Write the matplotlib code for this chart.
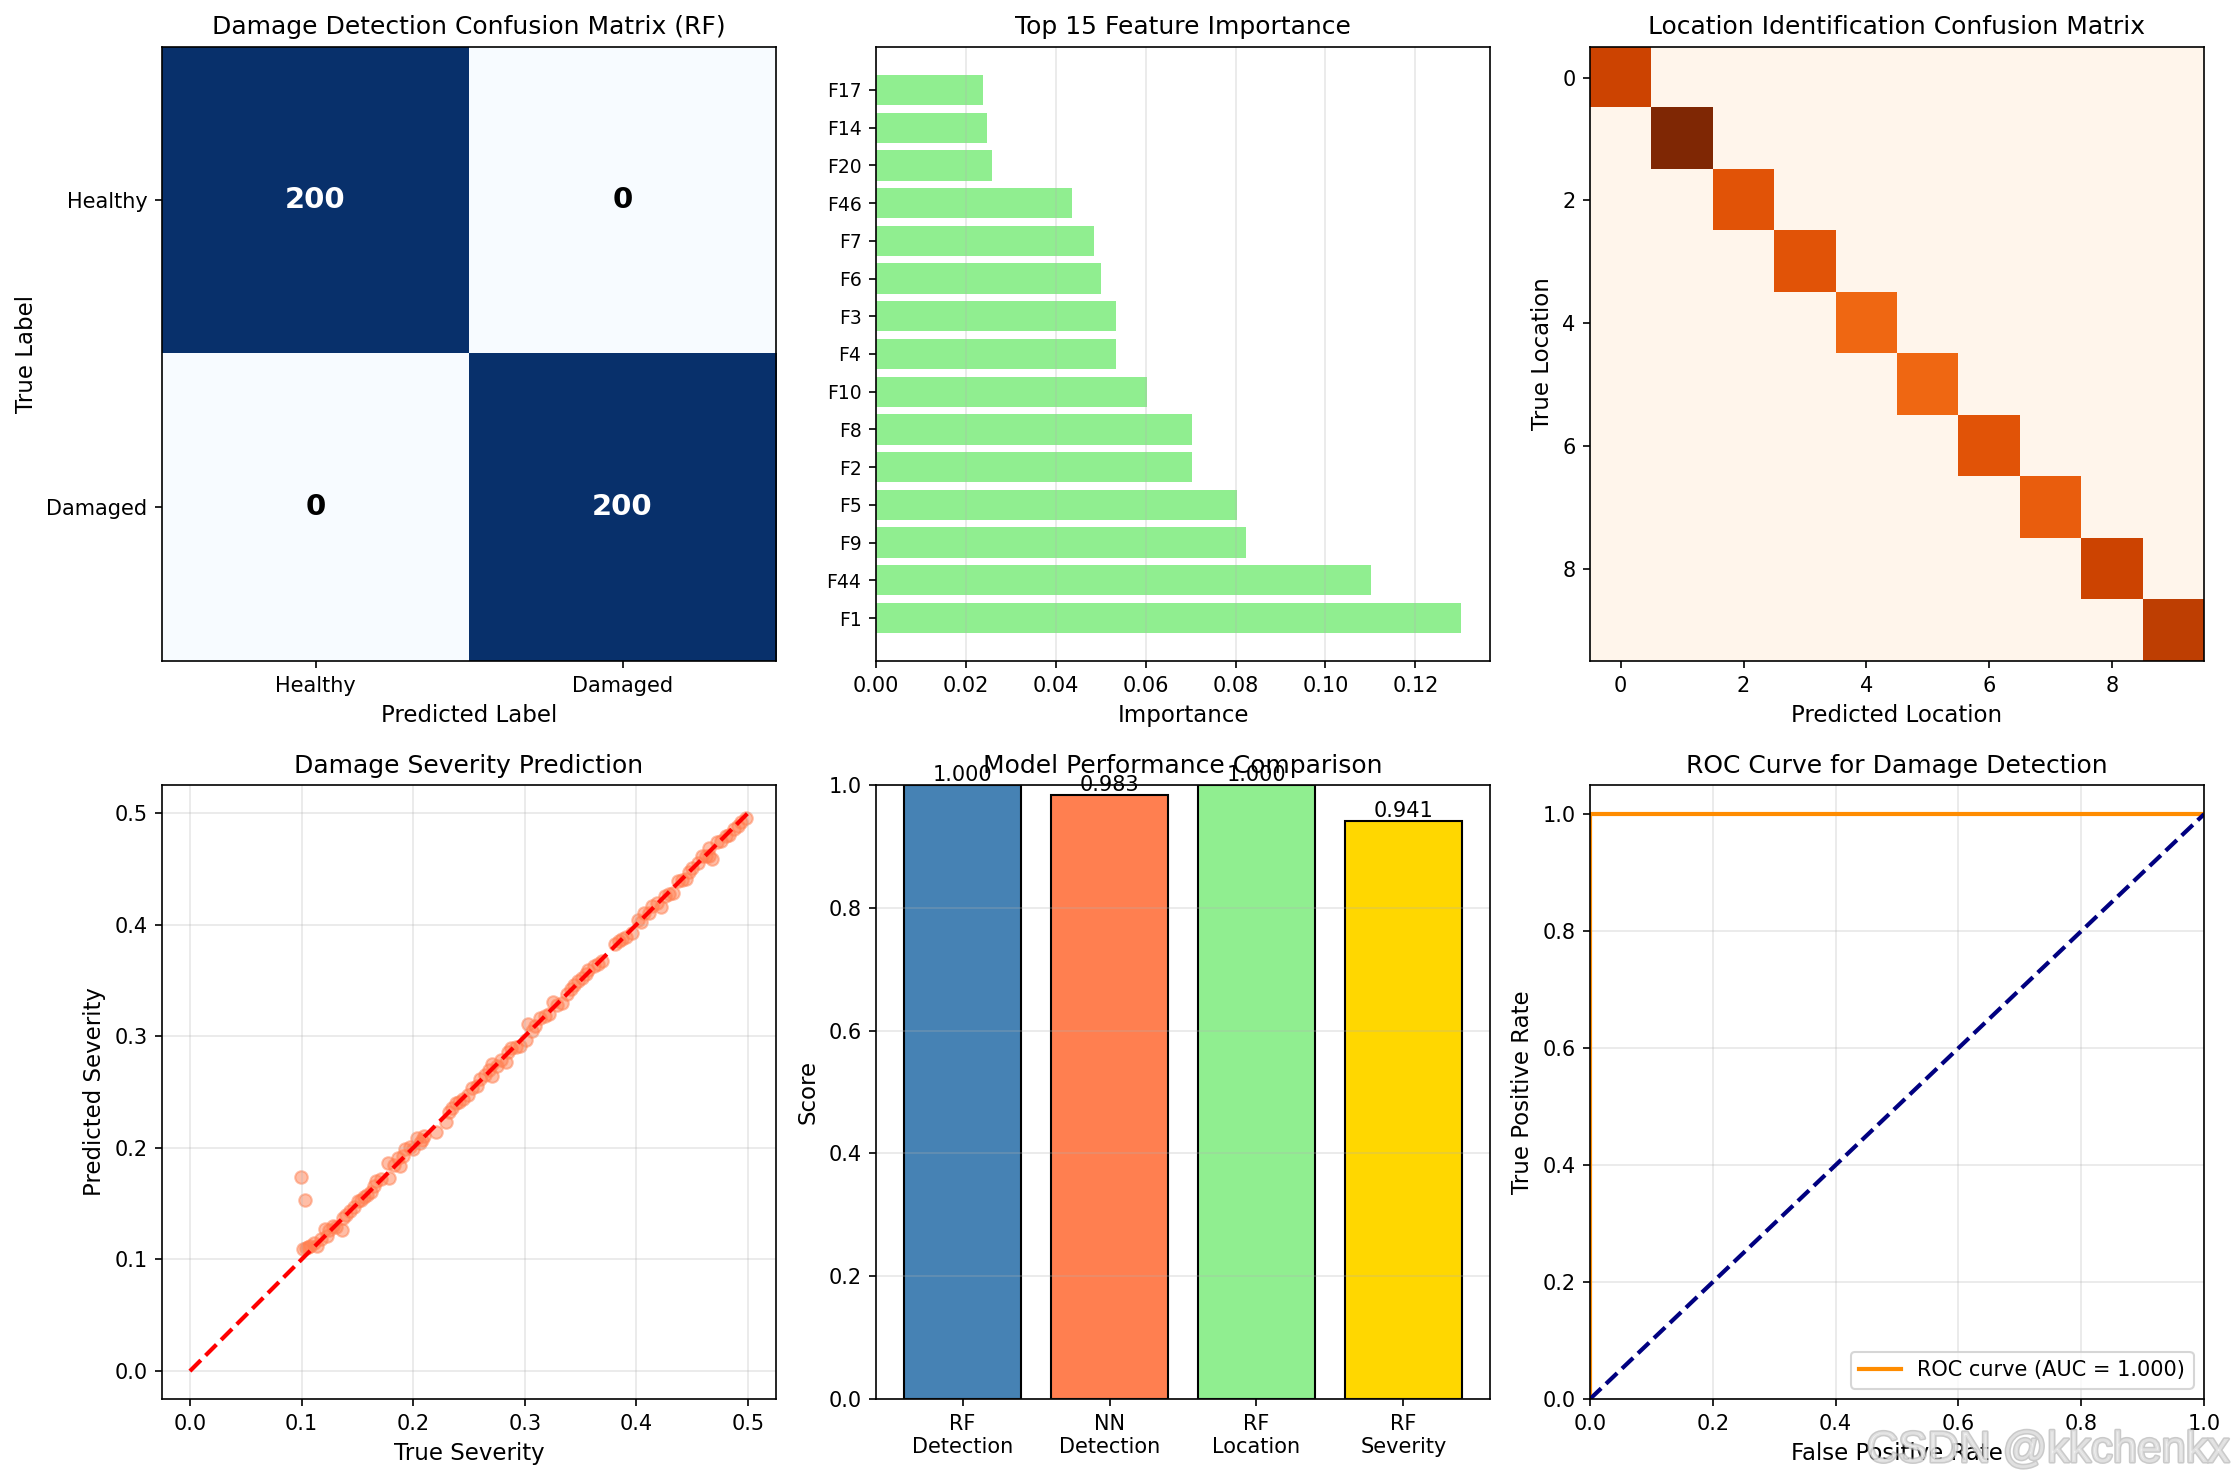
import numpy as np
import matplotlib
matplotlib.use('Agg')
import matplotlib.pyplot as plt
import matplotlib.patheffects as pe

# detection confusion matrix
class_names = ['Healthy', 'Damaged']
cm_detect = [[200, 0],
             [0, 200]]

# location confusion matrix (diagonal counts)
loc_counts = [21, 27, 19, 19, 17, 17, 19, 18, 21, 22]

# feature importance (bottom to top)
features = ['F1', 'F44', 'F9', 'F5', 'F2', 'F8', 'F10', 'F4', 'F3', 'F6',
            'F7', 'F46', 'F20', 'F14', 'F17']
importances = [0.1301, 0.1101, 0.0823, 0.0803, 0.0702, 0.0702, 0.0602, 0.0535,
               0.0533, 0.0501, 0.0484, 0.0437, 0.0259, 0.0246, 0.0239]

# severity regression
sev_true = [0.0996, 0.103, 0.101, 0.104, 0.106, 0.108, 0.111, 0.114, 0.117, 0.121,
            0.123, 0.125, 0.128, 0.131, 0.136, 0.1375, 0.140, 0.143, 0.147, 0.151,
            0.153, 0.156, 0.159, 0.162, 0.165, 0.167, 0.171, 0.178, 0.177, 0.183,
            0.186, 0.188, 0.191, 0.193, 0.197, 0.200, 0.203, 0.206, 0.208, 0.210,
            0.220, 0.229, 0.232, 0.235, 0.238, 0.241, 0.245, 0.249, 0.253, 0.257,
            0.260, 0.264, 0.268, 0.271, 0.271, 0.275, 0.279, 0.283, 0.285, 0.288,
            0.292, 0.296, 0.301, 0.303, 0.306, 0.309, 0.314, 0.318, 0.322, 0.325,
            0.329, 0.333, 0.338, 0.341, 0.344, 0.348, 0.351, 0.355, 0.357, 0.362,
            0.366, 0.369, 0.381, 0.384, 0.387, 0.391, 0.396, 0.401, 0.404, 0.407,
            0.411, 0.414, 0.418, 0.422, 0.426, 0.429, 0.433, 0.437, 0.441, 0.444,
            0.447, 0.450, 0.455, 0.459, 0.462, 0.465, 0.465, 0.468, 0.472, 0.476,
            0.480, 0.483, 0.487, 0.491, 0.494, 0.498]
sev_pred = [0.174, 0.153, 0.109, 0.110, 0.111, 0.112, 0.115, 0.112, 0.118, 0.127,
            0.121, 0.126, 0.130, 0.129, 0.126, 0.137, 0.140, 0.143, 0.147, 0.152,
            0.153, 0.156, 0.158, 0.160, 0.166, 0.170, 0.172, 0.173, 0.186, 0.185,
            0.191, 0.184, 0.193, 0.199, 0.201, 0.199, 0.209, 0.204, 0.207, 0.211,
            0.214, 0.223, 0.232, 0.236, 0.240, 0.241, 0.244, 0.247, 0.254, 0.255,
            0.262, 0.265, 0.270, 0.264, 0.275, 0.273, 0.279, 0.277, 0.286, 0.289,
            0.290, 0.291, 0.297, 0.311, 0.305, 0.309, 0.316, 0.318, 0.320, 0.331,
            0.328, 0.330, 0.338, 0.342, 0.346, 0.349, 0.352, 0.356, 0.359, 0.363,
            0.365, 0.367, 0.383, 0.385, 0.387, 0.389, 0.392, 0.404, 0.402, 0.410,
            0.410, 0.417, 0.419, 0.416, 0.426, 0.427, 0.428, 0.439, 0.440, 0.441,
            0.447, 0.451, 0.455, 0.461, 0.461, 0.469, 0.461, 0.459, 0.474, 0.475,
            0.479, 0.480, 0.486, 0.488, 0.492, 0.495]

# model comparison
model_names = ['RF\nDetection', 'NN\nDetection', 'RF\nLocation', 'RF\nSeverity']
scores = [1.000, 0.983, 1.000, 0.941]
bar_colors = ['steelblue', 'coral', 'lightgreen', 'gold']

# ROC
fpr = [0.0, 0.0, 1.0]
tpr = [0.0, 1.0, 1.0]
roc_auc = 1.000

plt.rcParams['axes.labelsize'] = 11

W, H = 2235, 1482
fig = plt.figure(figsize=(W / 150, H / 150), dpi=150)

lefts = [162, 876, 1590]
tops = [47, 785]
size = 614

def make_ax(row, col):
    l = lefts[col] / W
    b = 1 - (tops[row] + size) / H
    return fig.add_axes([l, b, size / W, size / H])

# 1. detection confusion matrix
ax = make_ax(0, 0)
cm = np.array(cm_detect)
ax.imshow(cm, cmap='Blues', interpolation='nearest')
ax.set_xticks(range(2))
ax.set_yticks(range(2))
ax.set_xticklabels(class_names)
ax.set_yticklabels(class_names)
thresh = cm.max() / 2
for i in range(2):
    for j in range(2):
        ax.text(j, i, str(cm[i, j]), ha='center', va='center', fontsize=14,
                fontweight='bold', color='white' if cm[i, j] > thresh else 'black')
ax.set_title('Damage Detection Confusion Matrix (RF)')
ax.set_xlabel('Predicted Label')
ax.set_ylabel('True Label')

# 2. feature importance
ax = make_ax(0, 1)
ax.barh(range(len(features)), importances, color='lightgreen')
ax.set_yticks(range(len(features)))
ax.set_yticklabels(features, fontsize=9)
ax.set_xlabel('Importance')
ax.set_title('Top 15 Feature Importance')
ax.grid(True, axis='x', alpha=0.3)

# 3. location confusion matrix
ax = make_ax(0, 2)
cm_loc = np.diag(loc_counts)
ax.imshow(cm_loc, cmap='Oranges', interpolation='nearest')
ax.set_title('Location Identification Confusion Matrix')
ax.set_xlabel('Predicted Location')
ax.set_ylabel('True Location')

# 4. severity scatter
ax = make_ax(1, 0)
ax.scatter(sev_true, sev_pred, alpha=0.5, color='coral')
ax.plot([0, 0.5], [0, 0.5], 'r--', lw=2)
ax.set_xlabel('True Severity')
ax.set_ylabel('Predicted Severity')
ax.set_title('Damage Severity Prediction')
ax.grid(True, alpha=0.3)

# 5. model comparison
ax = make_ax(1, 1)
bars = ax.bar(model_names, scores, color=bar_colors, edgecolor='black')
for bar, s in zip(bars, scores):
    ax.text(bar.get_x() + bar.get_width() / 2, bar.get_height(), f'{s:.3f}',
            ha='center', va='bottom')
ax.set_ylim(0, 1)
ax.set_ylabel('Score')
ax.set_title('Model Performance Comparison')
ax.grid(True, axis='y', alpha=0.3)

# 6. ROC
ax = make_ax(1, 2)
ax.plot(fpr, tpr, color='darkorange', lw=2, label=f'ROC curve (AUC = {roc_auc:.3f})')
ax.plot([0, 1], [0, 1], color='navy', lw=2, linestyle='--')
ax.set_xlim(0.0, 1.0)
ax.set_ylim(0.0, 1.05)
ax.set_xlabel('False Positive Rate')
ax.set_ylabel('True Positive Rate')
ax.set_title('ROC Curve for Damage Detection')
ax.legend(loc='lower right')
ax.grid(True, alpha=0.3)

# watermark
fig.text(2230 / W, 20 / H, 'CSDN @kkchenkx', ha='right', va='baseline',
         fontsize=21, family='Liberation Sans', color='#f2f2f2', alpha=0.6,
         path_effects=[pe.withStroke(linewidth=1.5, foreground='#a8a8a8')])

fig.savefig('out.png', dpi=150)
